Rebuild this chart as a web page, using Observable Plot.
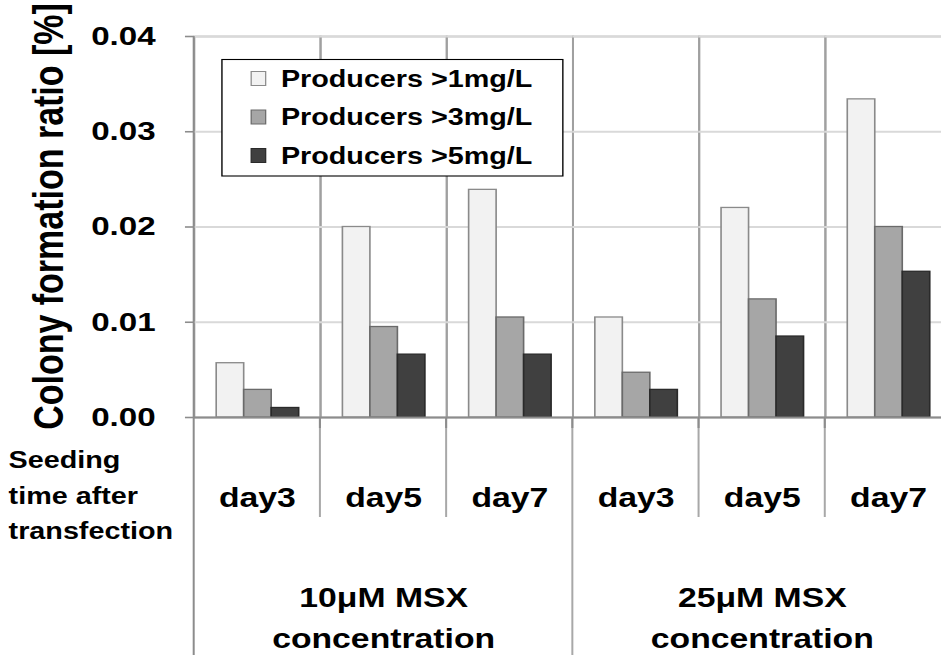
<!DOCTYPE html>
<html><head><meta charset="utf-8">
<script src="https://cdn.jsdelivr.net/npm/d3@7"></script>
<script src="https://cdn.jsdelivr.net/npm/@observablehq/plot@0.6"></script>
<style>html,body{margin:0;padding:0;background:#fff;overflow:hidden}</style>
</head><body><div id="chart"></div>
<script>
// ---- data ----
const concentrations = ["10μM MSX", "25μM MSX"];
const groupSuffix = "concentration";
const days = ["day3", "day5", "day7"];
const seriesNames = ["Producers >1mg/L", "Producers >3mg/L", "Producers >5mg/L"];
const above1 = [0.0057, 0.0200, 0.0239, 0.0105, 0.0220, 0.0334];
const above3 = [0.0029, 0.0095, 0.0105, 0.0047, 0.0124, 0.0200];
const above5 = [0.0010, 0.0066, 0.0066, 0.0029, 0.0085, 0.0153];
const yTicks = [0, 0.01, 0.02, 0.03, 0.04];
const yTitle = "Colony formation ratio [%]";
const rowTitle = "Seeding\ntime after\ntransfection";

// ---- styles ----
const fills = ["#f2f2f2", "#a6a6a6", "#404040"];
const strokes = ["#8a8a8a", "#6a6a6a", "#2a2a2a"];
const font = "'Liberation Sans', Arial, Helvetica, sans-serif";

// ---- tables ----
const cells = [];
concentrations.forEach((c, ci) => days.forEach((d, di) => cells.push({key: `${c}|${d}`, conc: c, day: d, idx: ci * days.length + di})));
const keys = cells.map(d => d.key);
const seriesValues = [above1, above3, above5];
const rows = [];
cells.forEach(cell => seriesNames.forEach((s, si) => rows.push({key: cell.key, series: s, si, value: seriesValues[si][cell.idx]})));
const groupLabels = concentrations.map(c => ({key: `${c}|${days[1]}`, text: `${c}\n${groupSuffix}`}));

// ---- layout (drawn in a narrower space, then stretched horizontally) ----
const OUT_W = 941, H = 655;
const W = 753;
const M = {top: 36, bottom: 238, left: 155, right: -8};

const plot = Plot.plot({
  width: W, height: H,
  marginTop: M.top, marginBottom: M.bottom, marginLeft: M.left, marginRight: M.right,
  style: {fontFamily: font, fontWeight: "bold", color: "#000", background: "#fff"},
  fx: {domain: keys, padding: 0, axis: null, label: null},
  x: {domain: seriesNames, paddingInner: 0, paddingOuter: 0.75, axis: null},
  y: {domain: [0, 0.04], label: null},
  color: {type: "identity"},
  marks: [
    Plot.frame({stroke: "#a0a0a0", strokeWidth: 1.6}),
    Plot.ruleY(yTicks.filter(v => v > 0), {stroke: "#d9d9d9", strokeWidth: 2}),
    Plot.barY(rows, {fx: "key", x: "series", y: "value", fill: d => fills[d.si], stroke: d => strokes[d.si], strokeWidth: 1.3}),
    Plot.ruleY([0], {stroke: "#8c8c8c", strokeWidth: 2}),
    Plot.axisY({ticks: yTicks, tickFormat: d3.format(".2f"), tickSize: 7, tickPadding: 24, fontSize: 26.5, fontWeight: "bold", stroke: "#8c8c8c", strokeWidth: 1.6, fill: "#000", label: null}),
    Plot.text(cells, {fx: "key", text: "day", frameAnchor: "bottom", lineAnchor: "middle", textAnchor: "middle", dy: 80.5, fontSize: 27, fontWeight: "bold", fill: "#000"}),
    Plot.text(groupLabels, {fx: "key", text: "text", frameAnchor: "bottom", lineAnchor: "middle", textAnchor: "middle", dy: 197, fontSize: 27, lineHeight: 1.52, fontWeight: "bold", fill: "#000"}),
    Plot.text([rowTitle], {fx: () => keys[0], text: d => d, frameAnchor: "bottom-left", lineAnchor: "middle", textAnchor: "start", dx: -148.6, dy: 75, fontSize: 23, lineHeight: 1.54, fontWeight: "bold", fill: "#000"}),
    Plot.text([yTitle], {fx: () => keys[0], text: d => d, frameAnchor: "left", lineAnchor: "middle", textAnchor: "middle", rotate: -90, dx: -116.2, dy: -10.5, fontSize: 34, fontWeight: "bold", fill: "#000"})
  ]
});

// ---- separators below the axis and legend ----
const svg = d3.select(plot);
const fxScale = plot.scale("fx");
const r0 = fxScale && fxScale.range ? fxScale.range[0] : M.left;
const r1 = fxScale && fxScale.range ? fxScale.range[1] : W - M.right;
const step = (r1 - r0) / keys.length;
const y0 = H - M.bottom;
const deco = svg.append("g").attr("fill", "none");
keys.forEach((k, i) => {
  if (i === 0) return;
  const x = r0 + i * step;
  const groupEdge = i % days.length === 0;
  deco.append("line").attr("x1", x).attr("x2", x).attr("y1", y0).attr("y2", groupEdge ? H : y0 + 100)
    .attr("stroke", "#a8a8a8").attr("stroke-width", 1.6);
  deco.append("line").attr("x1", x).attr("x2", x).attr("y1", y0).attr("y2", y0 + 11)
    .attr("stroke", "#8c8c8c").attr("stroke-width", 1.6);
});
deco.append("line").attr("x1", r0).attr("x2", r0).attr("y1", M.top).attr("y2", H)
  .attr("stroke", "#8c8c8c").attr("stroke-width", 1.6);

const lg = svg.append("g").attr("font-family", font).attr("font-weight", "bold").attr("text-anchor", "start");
lg.append("rect").attr("x", 177.6).attr("y", 59.5).attr("width", 272.8).attr("height", 116.5)
  .attr("fill", "#fff").attr("stroke", "#000").attr("stroke-width", 1.1);
seriesNames.forEach((s, i) => {
  const cy = 78.5 + i * 38.5;
  lg.append("rect").attr("x", 201).attr("y", cy - 7).attr("width", 11.6).attr("height", 14)
    .attr("fill", fills[i]).attr("stroke", strokes[i]).attr("stroke-width", 1);
  lg.append("text").attr("x", 224.8).attr("y", cy).attr("dy", "0.36em").attr("font-size", 23)
    .attr("text-anchor", "start").attr("fill", "#000").text(s);
});

// stretch horizontally to the output width
plot.setAttribute("width", OUT_W);
plot.setAttribute("height", H);
plot.setAttribute("viewBox", `0 0 ${W} ${H}`);
plot.setAttribute("preserveAspectRatio", "none");
plot.style.width = OUT_W + "px";
plot.style.height = H + "px";
plot.style.maxWidth = "none";
plot.style.overflow = "hidden";
document.getElementById("chart").appendChild(plot);
</script>
</body></html>
